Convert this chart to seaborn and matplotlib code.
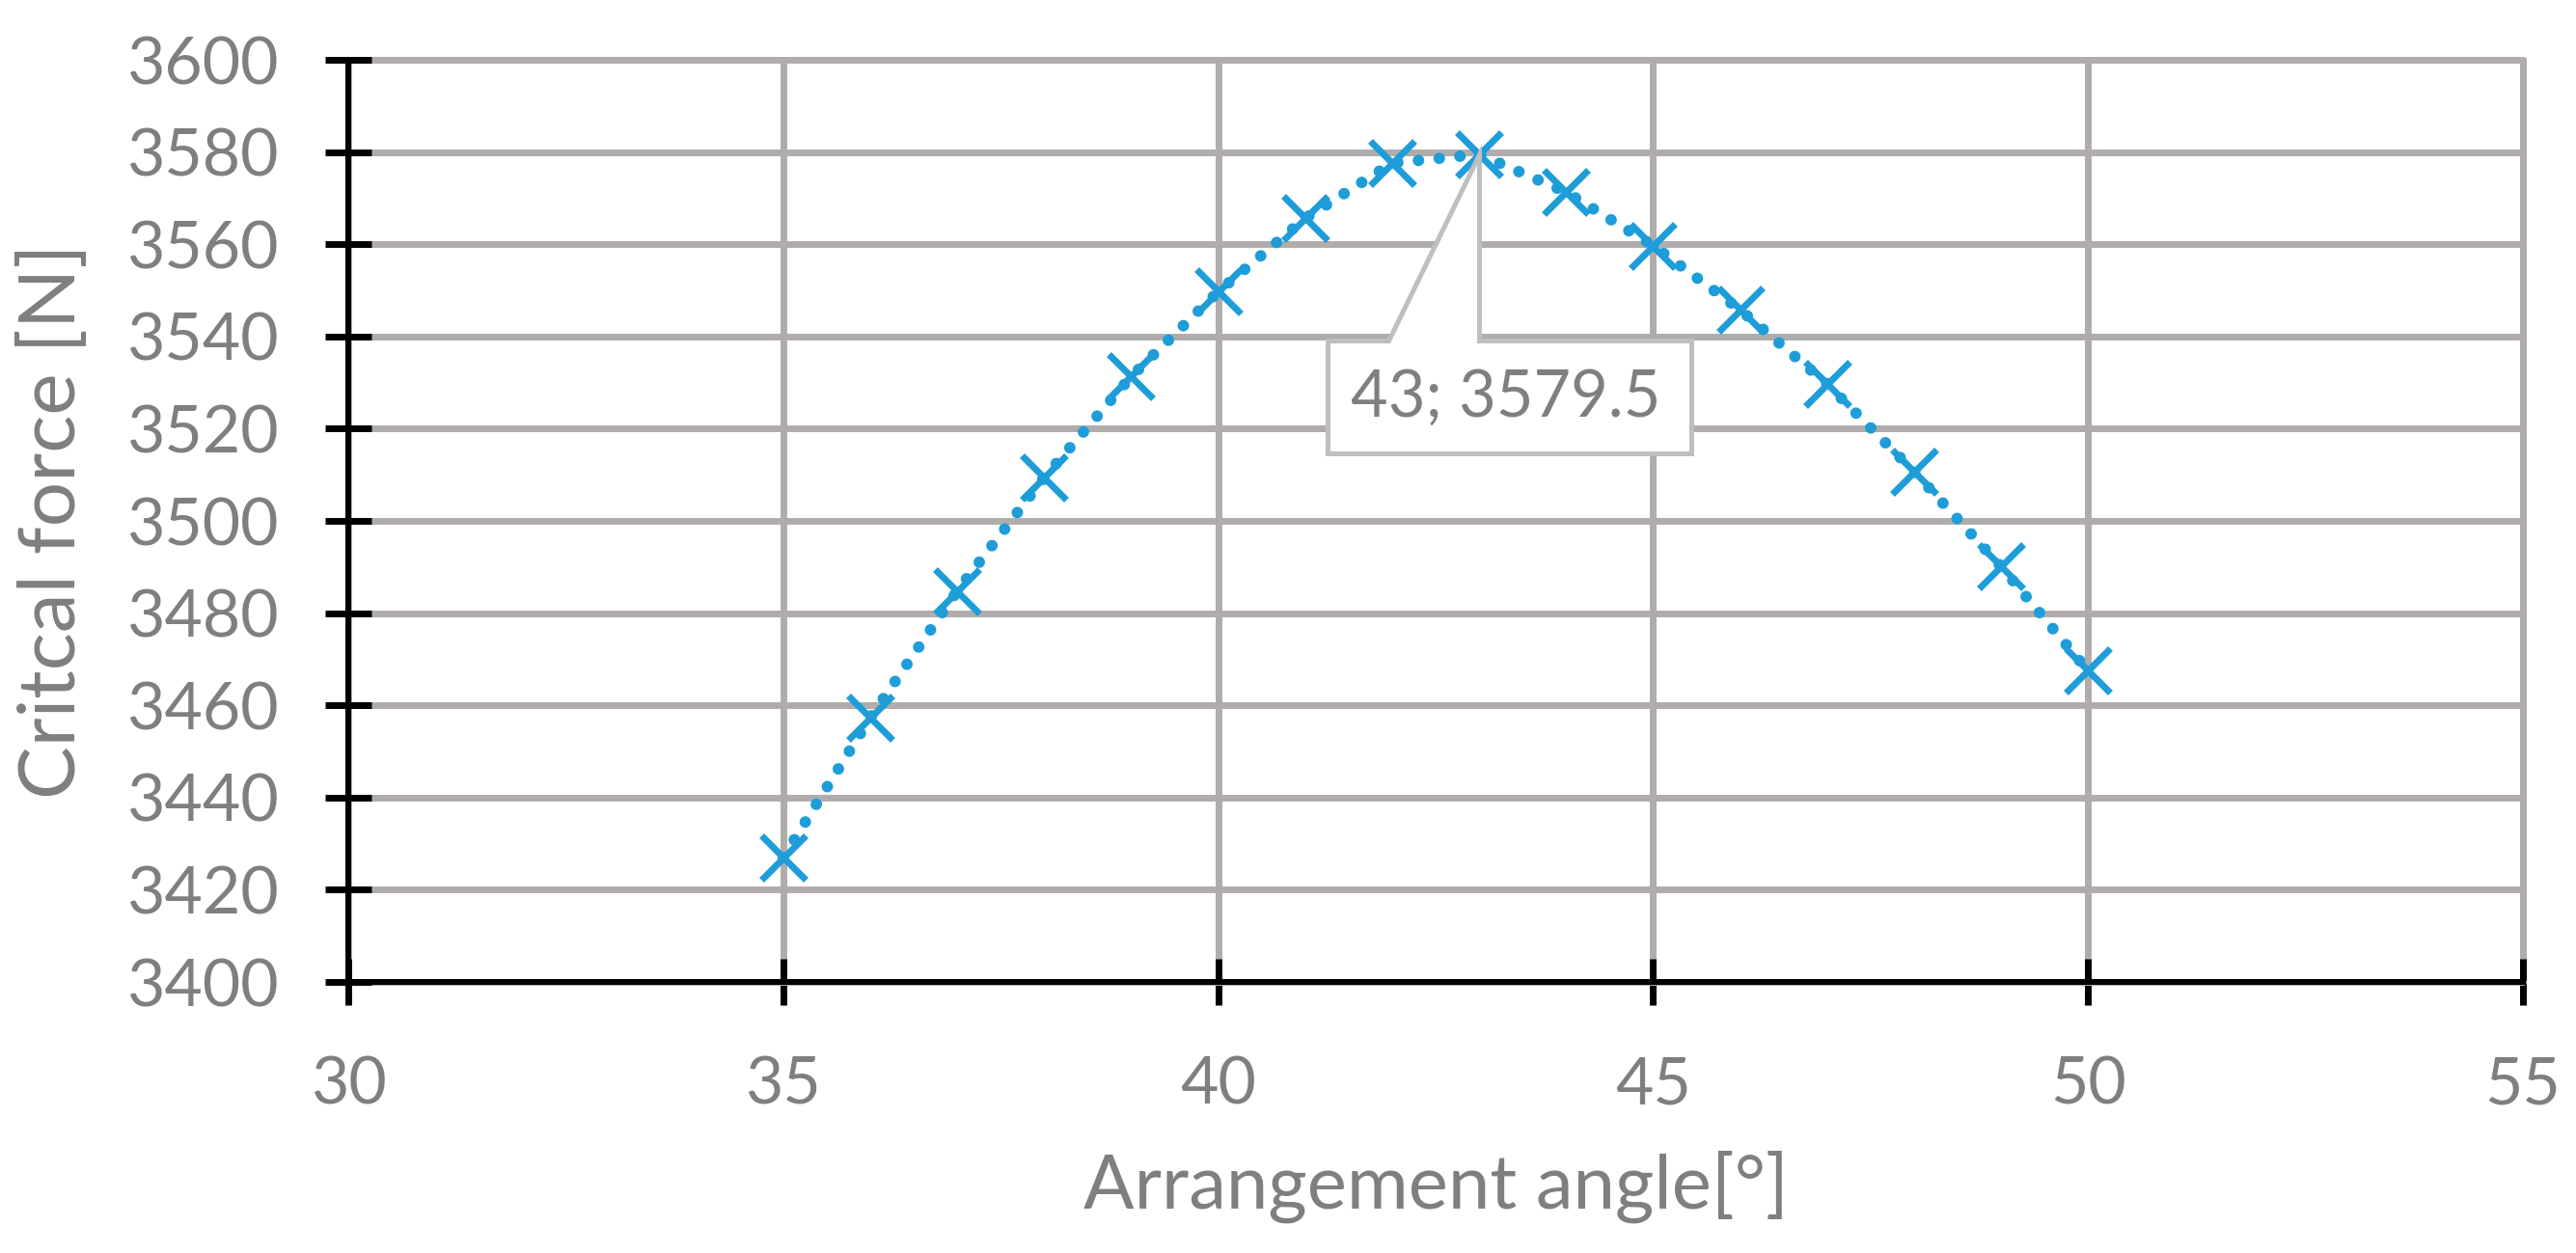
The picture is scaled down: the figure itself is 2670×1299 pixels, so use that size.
import numpy as np
import pandas as pd
import matplotlib
matplotlib.use("Agg")
import matplotlib.pyplot as plt
import matplotlib.transforms as mtransforms
from matplotlib.patches import Polygon
import seaborn as sns

# Arrangement angle [deg] and critical force [N]
angle = [35, 36, 37, 38, 39, 40, 41, 42, 43, 44, 45, 46, 47, 48, 49, 50]
force = [3427, 3457.3, 3484.8, 3509.4, 3531.3, 3549.7, 3565.6, 3577.6,
         3579.5, 3571.3, 3559.7, 3545.8, 3529.7, 3510.7, 3490.1, 3467.5]

x_ticks = [30, 35, 40, 45, 50, 55]
y_ticks = [3400, 3420, 3440, 3460, 3480, 3500, 3520, 3540, 3560, 3580, 3600]

df = pd.DataFrame({"angle": angle, "force": force})

blue = "#1e9dd9"
grey_text = "#7f7f7f"
grid_col = "#b0acab"

sns.set_theme(style="white")
plt.rcParams["font.family"] = ["Lato", "DejaVu Sans"]

fig, ax = plt.subplots(figsize=(26.7, 12.99), dpi=100)
fig.subplots_adjust(left=361 / 2670, right=2615 / 2670,
                    bottom=1 - 1018 / 1299, top=1 - 62 / 1299)

sns.lineplot(data=df, x="angle", y="force", ax=ax, color=blue,
             linestyle=(0, (0.01, 1.8)), linewidth=8.6,
             dash_capstyle="round", marker="x", markersize=33,
             markeredgewidth=5, markeredgecolor=blue, zorder=3)

ax.set_xlim(30, 55)
ax.set_ylim(3400, 3600)
ax.set_xticks(x_ticks)
ax.set_yticks(y_ticks)

ax.grid(True, color=grid_col, linewidth=5)
ax.set_axisbelow(True)
for gl in ax.get_xgridlines() + ax.get_ygridlines():
    gl.set_clip_on(False)

for side in ["top", "right"]:
    ax.spines[side].set_visible(False)
for side in ["left", "bottom"]:
    ax.spines[side].set_color("black")
    ax.spines[side].set_linewidth(4.3)
    ax.spines[side].set_zorder(2.5)

ax.tick_params(axis="both", bottom=True, left=True, direction="inout",
               length=34.6, width=5, color="black", labelcolor=grey_text,
               labelsize=49)
ax.tick_params(axis="x", pad=38)
ax.tick_params(axis="y", pad=35)

ax.set_xlabel("Arrangement angle[°]", fontsize=56, color=grey_text, labelpad=26)
ax.set_ylabel("Critcal force [N]", fontsize=59, color=grey_text, labelpad=28)

# data callout at the maximum
i_max = int(np.argmax(force))
peak_x, peak_y = angle[i_max], force[i_max]
tip = mtransforms.ScaledTranslation(peak_x, peak_y, ax.transData)
outline = [(0, 0), (0, -193), (220, -193), (220, -310), (-157, -310),
           (-157, -193), (-94, -193)]
ax.add_patch(Polygon(outline, closed=True, transform=tip, facecolor="white",
                     edgecolor="#bfbfbf", linewidth=3.6, zorder=4,
                     clip_on=False, joinstyle="miter"))
ax.text(28, -253, f"{peak_x}; {peak_y}", transform=tip, ha="center",
        va="center", fontsize=48, color=grey_text, zorder=5)

fig.savefig("out.png", dpi=100)
